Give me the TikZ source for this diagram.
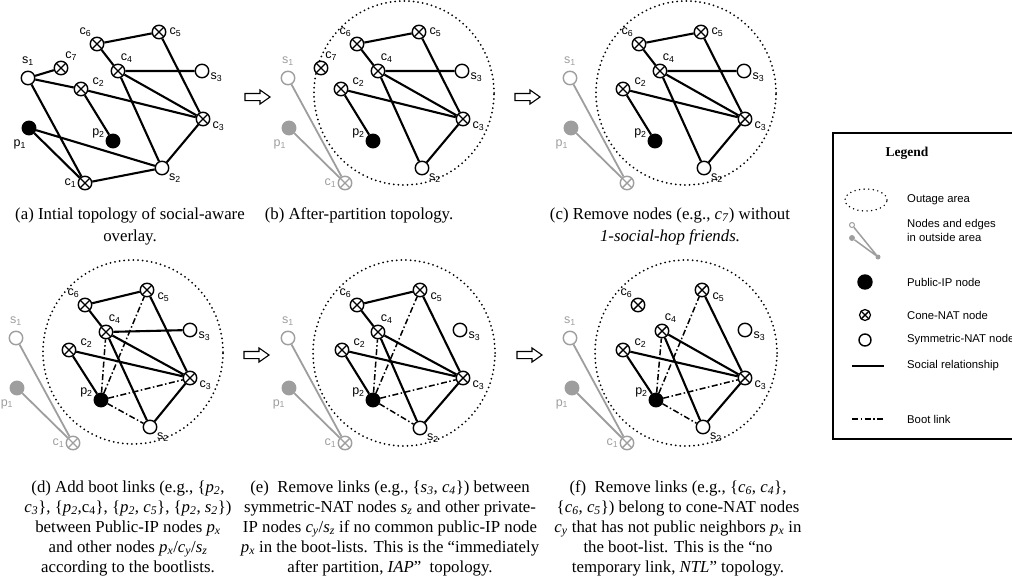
\documentclass[tikz,border=0pt]{standalone}
\usepackage{fontspec}
\setmainfont{Liberation Serif}
\setsansfont{Liberation Sans}
\usetikzlibrary{shapes.arrows}
\definecolor{outgray}{gray}{0.62}
\newcommand{\vx}[2]{\textit{#1}\textsubscript{\textit{#2}}}

\begin{document}
\begin{tikzpicture}[
    x=1pt, y=-1pt,
    sym/.style={circle, draw=#1, fill=white, line width=1.4pt, minimum size=13.5pt, inner sep=0pt},
    sym/.default=black,
    pub/.style={circle, draw=#1, fill=#1, line width=1.4pt, minimum size=13.5pt, inner sep=0pt},
    pub/.default=black,
    cone/.style={sym=#1, path picture={\draw[#1, line width=1.4pt] (path picture bounding box.north west) -- (path picture bounding box.south east) (path picture bounding box.north east) -- (path picture bounding box.south west);}},
    cone/.default=black,
    lbl/.style={font=\sffamily\fontsize{12.5}{13}\selectfont, inner sep=1pt},
    social/.style={line width=2.1pt},
    boot/.style={line width=1.5pt, dash pattern=on 6pt off 2.5pt on 1.5pt off 2.5pt},
    faded/.style={outgray, line width=1.8pt},
    outage/.style={line width=2pt, line cap=round, dash pattern=on 0pt off 4.6pt},
    flow/.style={single arrow, draw, line width=1.1pt, fill=white, minimum height=25pt, inner sep=3pt, single arrow head extend=3.5pt, single arrow tip angle=70},
    captext/.style={align=center, font=\fontsize{16.8}{22}\selectfont},
    captwo/.style={align=center, font=\fontsize{16.8}{20}\selectfont},
    legtext/.style={anchor=west, align=left, inner sep=0pt, font=\sffamily\fontsize{11.3}{14}\selectfont},
  ]
  \path[use as bounding box, clip] (0,0) rectangle (1012,581);

  \begin{scope}[name prefix=a-]
    \node[sym, label={[lbl, label distance=4pt]90:s\textsubscript{1}}] (s1) at (28,78) {};
    \node[cone, label={[lbl]65:c\textsubscript{7}}] (c7) at (61,68) {};
    \node[cone, label={[lbl]127:c\textsubscript{6}}] (c6) at (97,44) {};
    \node[cone, label={[lbl, label distance=2pt]0:c\textsubscript{5}}] (c5) at (159,32) {};
    \node[cone, label={[lbl]78:c\textsubscript{4}}] (c4) at (118,71) {};
    \node[sym, label={[lbl]-5:s\textsubscript{3}}] (s3) at (202,71) {};
    \node[cone, label={[lbl, label distance=3pt]5:c\textsubscript{2}}] (c2) at (81,89) {};
    \node[cone, label={[lbl, label distance=1pt]-10:c\textsubscript{3}}] (c3) at (203,119) {};
    \node[pub, label={[lbl, label distance=3pt]-100:p\textsubscript{1}}] (p1) at (29,128) {};
    \node[pub, label={[lbl]165:p\textsubscript{2}}] (p2) at (113,141) {};
    \node[cone, label={[lbl]180:c\textsubscript{1}}] (c1) at (85,183) {};
    \node[sym, label={[lbl]-38:s\textsubscript{2}}] (s2) at (162,168) {};
    \draw[social] (s1) -- (c7) (s1) -- (c2) (c2) -- (c3) (s1) -- (c1) (p1) -- (c1) (p1) -- (s2) (c1) -- (s2);
    \draw[social] (c2) -- (p2) (c6) -- (c5) (c6) -- (c4) (c4) -- (s3) (c4) -- (c3) (c4) -- (s2) (c5) -- (c3) (c3) -- (s2);
  \end{scope}

  \begin{scope}[shift={(260,0)}, name prefix=b-]
    \draw[outage] (144,93) ellipse [x radius=90pt, y radius=92pt];
    \node[sym=outgray, label={[lbl, outgray, label distance=4pt]90:s\textsubscript{1}}] (s1) at (28,78) {};
    \node[pub=outgray, label={[lbl, outgray, label distance=3pt]-100:p\textsubscript{1}}] (p1) at (29,128) {};
    \node[cone=outgray, label={[lbl, outgray]180:c\textsubscript{1}}] (c1) at (85,183) {};
    \node[cone, label={[lbl]65:c\textsubscript{7}}] (c7) at (61,68) {};
    \node[cone, label={[lbl]127:c\textsubscript{6}}] (c6) at (97,44) {};
    \node[cone, label={[lbl, label distance=2pt]0:c\textsubscript{5}}] (c5) at (159,32) {};
    \node[cone, label={[lbl]78:c\textsubscript{4}}] (c4) at (118,71) {};
    \node[sym, label={[lbl]-5:s\textsubscript{3}}] (s3) at (202,71) {};
    \node[cone, label={[lbl, label distance=3pt]5:c\textsubscript{2}}] (c2) at (81,89) {};
    \node[cone, label={[lbl, label distance=1pt]-10:c\textsubscript{3}}] (c3) at (203,119) {};
    \node[pub, label={[lbl]165:p\textsubscript{2}}] (p2) at (113,141) {};
    \node[sym, label={[lbl]-38:s\textsubscript{2}}] (s2) at (162,168) {};
    \draw[faded] (s1) -- (c1) (p1) -- (c1);
    \draw[social] (c2) -- (c3) (c2) -- (p2) (c6) -- (c5) (c6) -- (c4) (c4) -- (s3) (c4) -- (c3) (c4) -- (s2) (c5) -- (c3) (c3) -- (s2);
  \end{scope}

  \begin{scope}[shift={(542,0)}, name prefix=c-]
    \draw[outage] (144,93) ellipse [x radius=90pt, y radius=92pt];
    \node[sym=outgray, label={[lbl, outgray, label distance=4pt]90:s\textsubscript{1}}] (s1) at (28,78) {};
    \node[pub=outgray, label={[lbl, outgray, label distance=3pt]-100:p\textsubscript{1}}] (p1) at (29,128) {};
    \node[cone=outgray] (c1) at (85,183) {};
    \node[cone, label={[lbl]127:c\textsubscript{6}}] (c6) at (97,44) {};
    \node[cone, label={[lbl, label distance=2pt]0:c\textsubscript{5}}] (c5) at (159,32) {};
    \node[cone, label={[lbl]78:c\textsubscript{4}}] (c4) at (118,71) {};
    \node[sym, label={[lbl]-5:s\textsubscript{3}}] (s3) at (202,71) {};
    \node[cone, label={[lbl, label distance=3pt]5:c\textsubscript{2}}] (c2) at (81,89) {};
    \node[cone, label={[lbl, label distance=1pt]-10:c\textsubscript{3}}] (c3) at (203,119) {};
    \node[pub, label={[lbl]165:p\textsubscript{2}}] (p2) at (113,141) {};
    \node[sym, label={[lbl]-38:s\textsubscript{2}}] (s2) at (162,168) {};
    \draw[faded] (s1) -- (c1) (p1) -- (c1);
    \draw[social] (c2) -- (c3) (c2) -- (p2) (c6) -- (c5) (c6) -- (c4) (c4) -- (s3) (c4) -- (c3) (c4) -- (s2) (c5) -- (c3) (c3) -- (s2);
  \end{scope}

  \begin{scope}[shift={(-12,260)}, name prefix=d-]
    \draw[outage] (145,92) ellipse [x radius=90pt, y radius=92pt];
    \node[sym=outgray, label={[lbl, outgray, label distance=4pt]90:s\textsubscript{1}}] (s1) at (28,78) {};
    \node[pub=outgray, label={[lbl, outgray, label distance=3pt]-105:p\textsubscript{1}}] (p1) at (29,128) {};
    \node[cone=outgray, label={[lbl, outgray]180:c\textsubscript{1}}] (c1) at (85,183) {};
    \node[cone, label={[lbl]127:c\textsubscript{6}}] (c6) at (97,45) {};
    \node[cone, label={[lbl, label distance=2pt]-10:c\textsubscript{5}}] (c5) at (159,30) {};
    \node[cone, label={[lbl]78:c\textsubscript{4}}] (c4) at (118,72) {};
    \node[sym, label={[lbl]-5:s\textsubscript{3}}] (s3) at (202,70) {};
    \node[cone, label={[lbl, label distance=3pt]5:c\textsubscript{2}}] (c2) at (81,90) {};
    \node[cone, label={[lbl, label distance=1pt]-10:c\textsubscript{3}}] (c3) at (202,118) {};
    \node[pub, label={[lbl]165:p\textsubscript{2}}] (p2) at (113,140) {};
    \node[sym, label={[lbl]-38:s\textsubscript{2}}] (s2) at (162,167) {};
    \draw[faded] (s1) -- (c1) (p1) -- (c1);
    \draw[social] (c2) -- (c3) (c2) -- (p2) (c6) -- (c5) (c6) -- (c4) (c4) -- (s3) (c4) -- (c3) (c4) -- (s2) (c5) -- (c3) (c3) -- (s2);
    \draw[boot] (p2) -- (c4) (p2) -- (c5) (p2) -- (c3) (p2) -- (s2);
  \end{scope}

  \begin{scope}[shift={(260,260)}, name prefix=e-]
    \draw[outage] (144,93) ellipse [x radius=91pt, y radius=93pt];
    \node[sym=outgray, label={[lbl, outgray, label distance=4pt]90:s\textsubscript{1}}] (s1) at (28,78) {};
    \node[pub=outgray, label={[lbl, outgray, label distance=3pt]-105:p\textsubscript{1}}] (p1) at (29,128) {};
    \node[cone=outgray, label={[lbl, outgray]180:c\textsubscript{1}}] (c1) at (85,183) {};
    \node[cone, label={[lbl]127:c\textsubscript{6}}] (c6) at (97,45) {};
    \node[cone, label={[lbl, label distance=2pt]-10:c\textsubscript{5}}] (c5) at (160,30) {};
    \node[cone, label={[lbl]78:c\textsubscript{4}}] (c4) at (118,72) {};
    \node[sym, label={[lbl]-5:s\textsubscript{3}}] (s3) at (200,70) {};
    \node[cone, label={[lbl, label distance=3pt]5:c\textsubscript{2}}] (c2) at (82,90) {};
    \node[cone, label={[lbl, label distance=1pt]-10:c\textsubscript{3}}] (c3) at (203,118) {};
    \node[pub, label={[lbl]165:p\textsubscript{2}}] (p2) at (113,140) {};
    \node[sym, label={[lbl]-38:s\textsubscript{2}}] (s2) at (160,168) {};
    \draw[faded] (s1) -- (c1) (p1) -- (c1);
    \draw[social] (c2) -- (c3) (c2) -- (p2) (c6) -- (c5) (c6) -- (c4) (c4) -- (c3) (c4) -- (s2) (c5) -- (c3) (c3) -- (s2);
    \draw[boot] (p2) -- (c4) (p2) -- (c5) (p2) -- (c3) (p2) -- (s2);
  \end{scope}

  \begin{scope}[shift={(542,260)}, name prefix=f-]
    \draw[outage] (144,93) ellipse [x radius=91pt, y radius=93pt];
    \node[sym=outgray, label={[lbl, outgray, label distance=4pt]90:s\textsubscript{1}}] (s1) at (28,78) {};
    \node[pub=outgray, label={[lbl, outgray, label distance=3pt]-105:p\textsubscript{1}}] (p1) at (30,128) {};
    \node[cone=outgray, label={[lbl, outgray]180:c\textsubscript{1}}] (c1) at (85,183) {};
    \node[cone, label={[lbl]127:c\textsubscript{6}}] (c6) at (96,45) {};
    \node[cone, label={[lbl, label distance=2pt]-10:c\textsubscript{5}}] (c5) at (160,30) {};
    \node[cone, label={[lbl]78:c\textsubscript{4}}] (c4) at (120,71) {};
    \node[sym, label={[lbl]-5:s\textsubscript{3}}] (s3) at (203,70) {};
    \node[cone, label={[lbl, label distance=3pt]5:c\textsubscript{2}}] (c2) at (81,90) {};
    \node[cone, label={[lbl, label distance=1pt]-10:c\textsubscript{3}}] (c3) at (203,118) {};
    \node[pub, label={[lbl]165:p\textsubscript{2}}] (p2) at (114,140) {};
    \node[sym, label={[lbl]-38:s\textsubscript{2}}] (s2) at (161,167) {};
    \draw[faded] (s1) -- (c1) (p1) -- (c1);
    \draw[social] (c2) -- (c3) (c2) -- (p2) (c4) -- (c3) (c4) -- (s2) (c5) -- (c3) (c3) -- (s2);
    \draw[boot] (p2) -- (c4) (p2) -- (c5) (p2) -- (c3) (p2) -- (s2);
  \end{scope}

  \node[flow] (ab) at (255,97) {};
  \node[flow] (bc) at (525,97) {};
  \node[flow] (de) at (254,355) {};
  \node[flow] (ef) at (527,355) {};

  \node[captext] (capa) at (130,226) {(a) Intial topology of social-aware\\overlay.};
  \node[captext] (capb) at (359,215) {(b) After-partition topology.};
  \node[captext] (capc) at (670,226) {(c) Remove nodes (e.g., \vx{c}{7}) without\\\textit{1-social-hop friends.}};
  \node[captwo] (capd) at (128,528) {(d) Add boot links (e.g., \{\vx{p}{2},\\\vx{c}{3}\}, \{\vx{p}{2},c\textsubscript{4}\}, \{\vx{p}{2}, \vx{c}{5}\}, \{\vx{p}{2}, \vx{s}{2}\})\\between Public-IP nodes \vx{p}{x}\\and other nodes \vx{p}{x}/\vx{c}{y}/\vx{s}{z}\\according to the bootlists.};
  \node[captwo] (cape) at (390,528) {(e)\ \ Remove links (e.g., \{\vx{s}{3}, \vx{c}{4}\}) between\\symmetric-NAT nodes \vx{s}{z} and other private-\\IP nodes \vx{c}{y}/\vx{s}{z} if no common public-IP node\\\vx{p}{x} in the boot-lists. This is the ``immediately\\after partition, \textit{IAP}''\ \ topology.};
  \node[captwo] (capf) at (678,528) {(f)\ \ Remove links (e.g., \{\vx{c}{6}, \vx{c}{4}\},\\\{\vx{c}{6}, \vx{c}{5}\}) belong to cone-NAT nodes\\\vx{c}{y} that has not public neighbors \vx{p}{x} in\\the boot-list. This is the ``no\\temporary link, \textit{NTL}'' topology.};

  \draw[line width=1.2pt] (833,133) rectangle (1040,439);
  \node[font=\bfseries\fontsize{13.5}{15}\selectfont] (leg) at (907,153) {Legend};
  \draw[outage, line width=1.6pt] (866,200) ellipse [x radius=21pt, y radius=11pt];
  \node[legtext] (tout) at (907,200) {Outage area};
  \node[circle, draw=outgray, fill=white, line width=1pt, minimum size=5pt, inner sep=0pt] (lgs) at (852,225) {};
  \node[circle, fill=outgray, minimum size=6pt, inner sep=0pt] (lgp) at (852,238) {};
  \node[circle, fill=outgray, minimum size=5pt, inner sep=0pt] (lgc) at (878,257) {};
  \draw[outgray, line width=1.5pt] (lgs) -- (lgc) (lgp) -- (lgc);
  \node[legtext] (tfade) at (907,230) {Nodes and edges\\in outside area};
  \node[pub, minimum size=14pt] (lgpub) at (865,282) {};
  \node[legtext] (tpub) at (907,282) {Public-IP node};
  \node[cone, minimum size=11pt, line width=1.2pt] (lgcone) at (865,315) {};
  \node[legtext] (tcone) at (907,315) {Cone-NAT node};
  \node[sym, minimum size=12pt] (lgsym) at (865,340) {};
  \node[legtext] (tsym) at (907,340) {Symmetric-NAT node};
  \coordinate (lsa) at (852,366);
  \coordinate (lsb) at (884,366);
  \draw[social] (lsa) -- (lsb);
  \node[legtext] (tsoc) at (907,366) {Social relationship};
  \coordinate (lba) at (852,419);
  \coordinate (lbb) at (884,419);
  \draw[boot] (lba) -- (lbb);
  \node[legtext] (tboot) at (907,419) {Boot link};
\end{tikzpicture}
\end{document}
